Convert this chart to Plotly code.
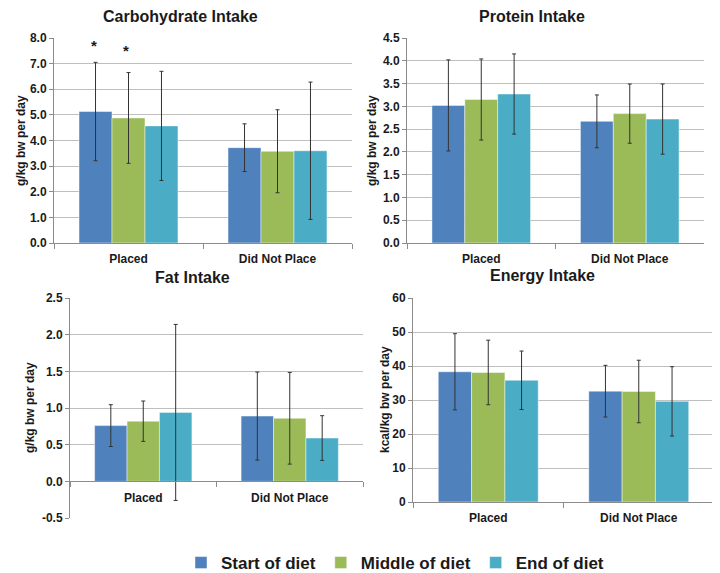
import plotly.graph_objects as go

categories = ["Placed", "Did Not Place"]
series_names = ["Start of diet", "Middle of diet", "End of diet"]
colors = ["#4F81BD", "#9BBB59", "#4BACC6"]

# Carbohydrate (g/kg bw per day)
carb_vals = [[5.13, 3.72], [4.88, 3.58], [4.57, 3.60]]
carb_sd = [[1.92, 0.93], [1.77, 1.62], [2.13, 2.68]]
# Protein
prot_vals = [[3.02, 2.67], [3.15, 2.84], [3.27, 2.72]]
prot_sd = [[1.00, 0.58], [0.89, 0.65], [0.88, 0.77]]
# Fat
fat_vals = [[0.76, 0.89], [0.82, 0.86], [0.94, 0.59]]
fat_sd = [[0.285, 0.60], [0.275, 0.625], [1.20, 0.305]]
fat_tickvals = [-0.5, 0.0, 0.5, 1.0, 1.5, 2.0, 2.5]
fat_ticktext = ["-0.5", "0.0", "0.5", "1.0", "1.5", "2.0", "2.5"]
# Energy (kcal/kg bw per day)
energy_vals = [[38.3, 32.6], [38.1, 32.5], [35.8, 29.6]]
energy_sd = [[11.2, 7.6], [9.5, 9.2], [8.6, 10.2]]

titles = ["Carbohydrate Intake", "Protein Intake", "Fat Intake", "Energy Intake"]
ytitles = ["g/kg bw per day", "g/kg bw per day", "g/kg bw per day", "kcal/kg bw per day"]

# significance markers (category offset, y)
star_x = [-0.23, -0.02]
star_y = [7.72, 7.50]

FONT = "Liberation Sans, Arial, sans-serif"
TXT = "#1a1a1a"

# page body has an 8px margin; figure is sized to fill the rest of the window
OFF = 8
W, H = 720 - OFF, 573 - OFF


def fx(X):
    return (X - OFF) / W


def fy(Y):
    return 1 - (Y - OFF) / H


fig = go.Figure()
panels = [(carb_vals, carb_sd), (prot_vals, prot_sd), (fat_vals, fat_sd), (energy_vals, energy_sd)]
for p, (vals, sds) in enumerate(panels):
    sfx = "" if p == 0 else str(p + 1)
    for s in range(3):
        fig.add_trace(go.Bar(
            x=categories, y=vals[s], name=series_names[s],
            marker=dict(color=colors[s], line=dict(color="rgba(255,255,255,0.45)", width=1)),
            error_y=dict(type="data", array=sds[s], color="#333333", thickness=1, width=2),
            xaxis="x" + sfx, yaxis="y" + sfx,
            showlegend=(p == 0), legendgroup=series_names[s],
        ))

# panel boxes in window pixels: (left, right, top, bottom)
boxes = [(54, 352, 38, 243), (407, 704, 38, 243), (70, 363, 298, 518), (413, 714, 298, 502)]
yranges = [(0, 8), (0, 4.5), (-0.5, 2.5), (0, 60)]
dticks = [1, 0.5, 0.5, 10]
tfmts = [".1f", ".1f", ".1f", "d"]

tickfont = dict(family=FONT, size=12, color=TXT, weight="bold")
layout = dict(
    width=W, height=H,
    margin=dict(l=0, r=0, t=0, b=0, autoexpand=False),
    paper_bgcolor="white", plot_bgcolor="white",
    barmode="group", bargap=0.336, bargroupgap=0,
    legend=dict(orientation="h", x=fx(395), xanchor="center", y=fy(563), yanchor="middle",
                font=dict(family=FONT, size=17, color=TXT, weight="bold"),
                itemwidth=30, traceorder="normal", tracegroupgap=0),
    font=dict(family=FONT, color=TXT),
)
for p in range(4):
    sfx = "" if p == 0 else str(p + 1)
    L, R, T, B = boxes[p]
    yd = [fy(B), fy(T)]
    xa = dict(domain=[fx(L), fx(R)], anchor="y" + sfx, type="category",
              showline=True, linecolor="#8C8C8C", linewidth=1,
              ticks="outside", tickson="boundaries", ticklen=5, tickcolor="#8C8C8C",
              ticklabelstandoff=5,
              tickfont=tickfont, showgrid=False, fixedrange=True, automargin=False)
    if p == 2:
        lo, hi = yranges[p]
        xa["anchor"] = "free"
        xa["position"] = yd[0] + (0 - lo) / (hi - lo) * (yd[1] - yd[0])
    ya = dict(domain=yd, anchor="x" + sfx, range=list(yranges[p]), dtick=dticks[p],
              tick0=yranges[p][0], tickformat=tfmts[p],
              showline=True, linecolor="#8C8C8C", linewidth=1,
              ticks="outside", ticklen=4, tickcolor="#8C8C8C",
              showgrid=True, gridcolor="#BFBFBF", gridwidth=1, zeroline=False,
              tickfont=tickfont, fixedrange=True, automargin=False)
    if p == 2:
        ya["tickmode"] = "array"
        ya["tickvals"] = fat_tickvals
        ya["ticktext"] = fat_ticktext
    layout["xaxis" + sfx] = xa
    layout["yaxis" + sfx] = ya

fig.update_layout(**layout)

title_px = [(180, 17), (532, 17), (192, 277), (542, 276)]
ytitle_px = [(21, 141), (372, 141), (30, 408), (385, 400)]
for p in range(4):
    fig.add_annotation(text=titles[p], x=fx(title_px[p][0]), y=fy(title_px[p][1]),
                       xref="paper", yref="paper", showarrow=False,
                       xanchor="center", yanchor="middle",
                       font=dict(family=FONT, size=16, color=TXT, weight="bold"))
    fig.add_annotation(text=ytitles[p], x=fx(ytitle_px[p][0]), y=fy(ytitle_px[p][1]),
                       xref="paper", yref="paper", showarrow=False, textangle=-90,
                       xanchor="center", yanchor="middle",
                       font=dict(family=FONT, size=12, color=TXT, weight="bold"))

for sx, sy in zip(star_x, star_y):
    fig.add_annotation(text="*", x=sx, y=sy, xref="x", yref="y", showarrow=False,
                       xanchor="center", yanchor="middle",
                       font=dict(family=FONT, size=15, color=TXT, weight="bold"))

fig.write_html("out.html")
